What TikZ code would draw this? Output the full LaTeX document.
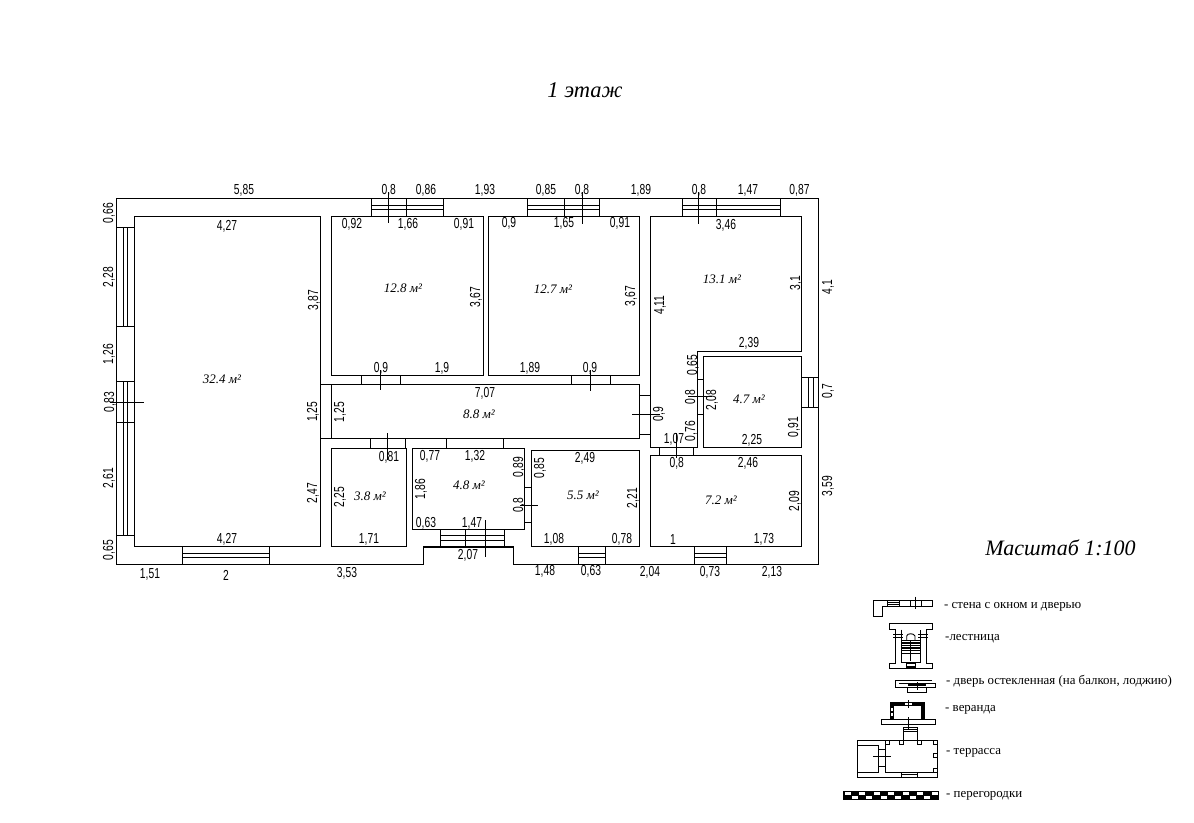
\documentclass[tikz,border=0pt]{standalone}
\usepackage{fontspec}
\setmainfont{Liberation Serif}
\newfontfamily\dimfont[FakeStretch=0.71]{Liberation Sans}
\tikzset{
  wall/.style={line width=1.2pt},
  thin wall/.style={line width=0.9pt},
  heavy wall/.style={line width=3.6pt},
  dimlabel/.style={inner sep=0pt,yshift=-1pt,font=\dimfont\fontsize{14.5}{15}\selectfont},
  dimrot/.style={dimlabel,yshift=1pt,xshift=1pt,rotate=90},
  arealabel/.style={inner sep=0pt,font=\itshape\fontsize{13}{14}\selectfont},
  titlelabel/.style={inner sep=0pt,font=\itshape\fontsize{22.5}{24}\selectfont},
  legendlabel/.style={inner sep=0pt,anchor=west,yshift=-2.5pt,font=\fontsize{12.9}{13}\selectfont}
}

\begin{document}
\begin{tikzpicture}[x=1pt,y=-1pt]
  \useasboundingbox (0,0) rectangle (1194,822);

  % outer walls
  \draw [wall] (116.5,198.3) -- (818.7,198.3) -- (818.7,564.3) -- (513.3,564.3)
    -- (513.3,547) -- (423.3,547) -- (423.3,564.3) -- (116.5,564.3) -- cycle;

  % rooms
  \begin{scope}[wall]
    \draw (134.3,216.3) rectangle (320.3,546.3);
    \draw (331.3,216.3) rectangle (483.7,375.3);
    \draw (488.3,216.3) rectangle (639.3,375.3);
    \draw (650.7,216.3) -- (801.7,216.3) -- (801.7,351.7) -- (697.3,351.7)
      -- (697.3,447.3) -- (650.7,447.3) -- cycle;
    \draw (703.3,356.3) rectangle (801.7,447.3);
    \draw (320.3,384.3) -- (639.3,384.3) -- (639.3,438.3) -- (320.3,438.3);
    \draw (331.3,384.3) -- (331.3,438.3);
    \draw (331.3,448.3) rectangle (406.3,546.3);
    \draw (412.3,448.3) rectangle (524.3,529.3);
    \draw (531.3,450.3) rectangle (639.3,546.3);
    \draw (650.7,455.3) rectangle (801.7,546.3);
  \end{scope}

  % windows in the top wall
  \begin{scope}[thin wall]
    \foreach \xa/\xm/\xb in {371.3/406.7/443.3,527.3/564.3/599.3,682.3/716.7/780.7} {
      \draw (\xa,198.3) -- (\xa,216.3) (\xb,198.3) -- (\xb,216.3) (\xm,198.3) -- (\xm,216.3);
      \draw (\xa,205.3) -- (\xb,205.3) (\xa,209.7) -- (\xb,209.7);
    }
    \foreach \xa/\xb in {182.3/269.3,578.3/605.7,694.3/726.7} {
      \draw (\xa,546.3) -- (\xa,564.3) (\xb,546.3) -- (\xb,564.3);
      \draw (\xa,553) -- (\xb,553) (\xa,557.7) -- (\xb,557.7);
    }
    % left wall
    \foreach \ya/\yb in {227.3/326.3,381.3/535.3} {
      \draw (116.5,\ya) -- (134.3,\ya) (116.5,\yb) -- (134.3,\yb);
      \draw (123.3,\ya) -- (123.3,\yb) (127.3,\ya) -- (127.3,\yb);
    }
    \draw (116.5,422.3) -- (134.3,422.3);
    % right wall
    \draw (801.7,377.3) -- (818.7,377.3) (801.7,407.3) -- (818.7,407.3);
    \draw (808.7,377.3) -- (808.7,407.3) (813.3,377.3) -- (813.3,407.3);
    % porch
    \draw (440.3,529.3) -- (440.3,547) (504.3,529.3) -- (504.3,547) (465.3,529.3) -- (465.3,547);
    \draw (440.3,535.7) -- (504.3,535.7) (440.3,540.7) -- (504.3,540.7);
    % door jambs
    \foreach \xa/\xb in {361.3/400.3,571.3/610.3} {
      \draw (\xa,375.3) -- (\xa,384.3) (\xb,375.3) -- (\xb,384.3);
    }
    \foreach \xa/\xb in {370.3/405.3,446.7/503.3} {
      \draw (\xa,438.3) -- (\xa,448.3) (\xb,438.3) -- (\xb,448.3);
    }
    \draw (524.3,487.3) -- (531.3,487.3) (524.3,522.7) -- (531.3,522.7);
    \draw (639.3,395.3) -- (650.7,395.3) (639.3,434.3) -- (650.7,434.3);
    \draw (697.3,379.3) -- (703.3,379.3) (697.3,414.7) -- (703.3,414.7);
    \draw (659.3,447.3) -- (659.3,455.3) (693.7,447.3) -- (693.7,455.3);
    % door ticks
    \draw (388.3,192) -- (388.3,223.3);
    \draw (582.3,192) -- (582.3,224.3);
    \draw (698.3,192) -- (698.3,224.3);
    \draw (110,402.3) -- (143.7,402.3);
    \draw (380.7,370) -- (380.7,390);
    \draw (590.3,370) -- (590.3,390.7);
    \draw (387.3,433.3) -- (387.3,460);
    \draw (485.3,520) -- (485.3,556.7);
    \draw (520,505.3) -- (538,505.3);
    \draw (632.3,414) -- (660,414);
    \draw (688.3,396.3) -- (711.7,396.3);
    \draw (676.7,433.3) -- (676.7,458.3);
  \end{scope}

  % horizontal dimensions
  \foreach \px/\py/\txt in {244/189/5{,}85,388.7/189/0{,}8,426/189/0{,}86,485/189/1{,}93,546/189/0{,}85,
      582/189/0{,}8,641/189/1{,}89,699/189/0{,}8,748/189/1{,}47,799.5/189/0{,}87,
      227/225/4{,}27,227/538/4{,}27,150/573/1{,}51,226/574/2,347/572/3{,}53,
      352/223/0{,}92,408/223/1{,}66,464/223/0{,}91,381/367/0{,}9,442/367/1{,}9,
      509/222/0{,}9,564/222/1{,}65,620/222/0{,}91,530/367/1{,}89,590/367/0{,}9,
      726/224/3{,}46,749/342/2{,}39,752/439/2{,}25,485/392/7{,}07,674/438.7/1{,}07,
      676.7/462/0{,}8,748/462/2{,}46,673/539/1,764/538/1{,}73,710/571/0{,}73,772/571/2{,}13,
      650/571/2{,}04,591/570/0{,}63,545/570/1{,}48,585/457/2{,}49,554/538/1{,}08,622/538/0{,}78,
      430/455/0{,}77,475/455/1{,}32,426/522/0{,}63,472/522/1{,}47,468/554/2{,}07,
      389/456/0{,}81,369/538/1{,}71}
    \node [dimlabel] at (\px,\py) {\txt};

  % vertical dimensions
  \foreach \px/\py/\txt in {108/213/0{,}66,108/277/2{,}28,108/354/1{,}26,109/402/0{,}83,108/478/2{,}61,108/550/0{,}65,
      313/300/3{,}87,312/411.7/1{,}25,312/493/2{,}47,475/297/3{,}67,630/296/3{,}67,
      795/283/3{,}1,659/305/4{,}11,692/365/0{,}65,690/397/0{,}8,711/400/2{,}08,793/427/0{,}91,
      827/391/0{,}7,827/287/4{,}1,827/486/3{,}59,339/412/1{,}25,658/414/0{,}9,690/431/0{,}76,
      794/501/2{,}09,539/468/0{,}85,632/498/2{,}21,518/467/0{,}89,518/505/0{,}8,420/489/1{,}86,
      339/497/2{,}25}
    \node [dimrot] at (\px,\py) {\txt};

  % room areas
  \foreach \px/\py/\txt in {222/379/32.4,403/288/12.8,553/289/12.7,722/279/13.1,749/399/4.7,
      479/414/8.8,721/500/7.2,583/495/5.5,469/485/4.8,370/496/3.8}
    \node [arealabel] at (\px,\py) {\txt{} м²};

  \node [titlelabel] (title) at (585,90) {1 этаж};
  \node [titlelabel,font=\itshape\fontsize{22}{23}\selectfont] (scalenote) at (1060.5,548) {Масштаб 1:100};

  % legend: wall
  \draw [thin wall] (873.3,600.3) -- (932.3,600.3) -- (932.3,606.3) -- (882.3,606.3)
    -- (882.3,616.3) -- (873.3,616.3) -- cycle;
  \draw [thin wall] (887.3,600.3) -- (887.3,606.3) (899.3,600.3) -- (899.3,606.3)
    (887.3,602.3) -- (899.3,602.3) (887.3,604.3) -- (899.3,604.3)
    (910.3,600.3) -- (910.3,606.3) (921.3,600.3) -- (921.3,606.3) (915.3,596.7) -- (915.3,609.3);
  \node [legendlabel] (legwall) at (944,604) {- стена с окном и дверью};

  % legend: stairs
  \draw [thin wall] (889.3,623.7) -- (932.3,623.7) -- (932.3,629.7) -- (926.7,629.7) -- (926.7,663)
    -- (932.3,663) -- (932.3,668.3) -- (889.3,668.3) -- (889.3,663) -- (895.3,663)
    -- (895.3,629.7) -- (889.3,629.7) -- cycle;
  \draw [thin wall] (901,629.7) -- (901,662) -- (920.7,662) -- (920.7,629.7);
  \draw [thin wall] (893,634) -- (903,634) (893,637) -- (903,637) (918,634) -- (928,634) (918,637) -- (928,637);
  \draw [thin wall] (906.7,640) -- (906.7,636) .. controls (907,633) and (914,633) .. (915,636) -- (915,640);
  \draw [thin wall] (910.5,640) -- (910.5,661);
  \foreach \py in {640.5,643,645.5,648,650.5,653.5} {
    \draw [line width=1.1pt] (901,\py) -- (920.7,\py);
  }
  \draw [line width=1.1pt] (906.7,663.5) rectangle (915.7,667);
  \node [legendlabel] (legstairs) at (945,636) {-лестница};

  % legend: glazed door
  \draw [thin wall] (932,680) -- (895.7,680) -- (895.7,687.3) -- (935.7,687.3) -- (935.7,683.7) -- (899.3,683.7);
  \draw [thin wall] (907.3,687.3) rectangle (926.7,692.3);
  \draw [line width=1.1pt] (908.3,685) -- (925.7,685);
  \draw [thin wall] (917.3,682.3) -- (917.3,690);
  \node [legendlabel] (legdoor) at (946,679) {- дверь остекленная (на балкон, лоджию)};

  % legend: veranda
  \draw [heavy wall] (892,718.5) -- (892,704) -- (923,704) -- (923,718.5);
  \draw [line width=1.4pt,white] (892,708) -- (892,710.5) (892,713) -- (892,716)
    (905,704) -- (912,704);
  \draw [thin wall] (881.3,719) rectangle (935.7,724.3);
  \draw [thin wall] (908.3,700) -- (908.3,708.3) (908.3,717.3) -- (908.3,730);
  \draw [thin wall] (903.3,727.3) rectangle (917.7,729.3);
  \node [legendlabel] (legveranda) at (945,707) {- веранда};

  % legend: terrace
  \draw [thin wall] (857.3,740.3) rectangle (937.7,777.3);
  \draw [thin wall] (857.3,745.7) rectangle (878.3,772.3);
  \draw [thin wall] (885.3,740.3) -- (885.3,772.3) -- (937.7,772.3);
  \draw [thin wall] (878.3,749) -- (885.3,749) (878.3,766.3) -- (885.3,766.3) (873.3,756.3) -- (890.7,756.3);
  \foreach \px/\py in {885.3/740.3,899.3/740.3,917/740.3,933.3/740.3,933.3/753.3,933.3/768} {
    \draw [thin wall] (\px,\py) rectangle ++(4.3,4.3);
  }
  \draw [thin wall] (901.3,772.3) rectangle (917.7,777.3) (901.3,774) -- (917.7,774);
  \draw [thin wall] (903.3,740.3) -- (903.3,727.3) (917.7,740.3) -- (917.7,727.3) (903.3,731.3) -- (917.7,731.3);
  \node [legendlabel] (legterrace) at (946,750) {- террасса};

  % legend: partitions
  \fill (843.3,790.7) rectangle (939,799.7);
  \foreach \px in {844.5,859,873.5,888,902.5,917,931.5} {
    \fill [white] (\px,791.7) rectangle ++(6,3);
  }
  \foreach \px in {851.7,866.2,880.7,895.2,909.7,924.2} {
    \fill [white] (\px,795.7) rectangle ++(6,3);
  }
  \node [legendlabel] (legpartition) at (946,793) {- перегородки};
\end{tikzpicture}
\end{document}
